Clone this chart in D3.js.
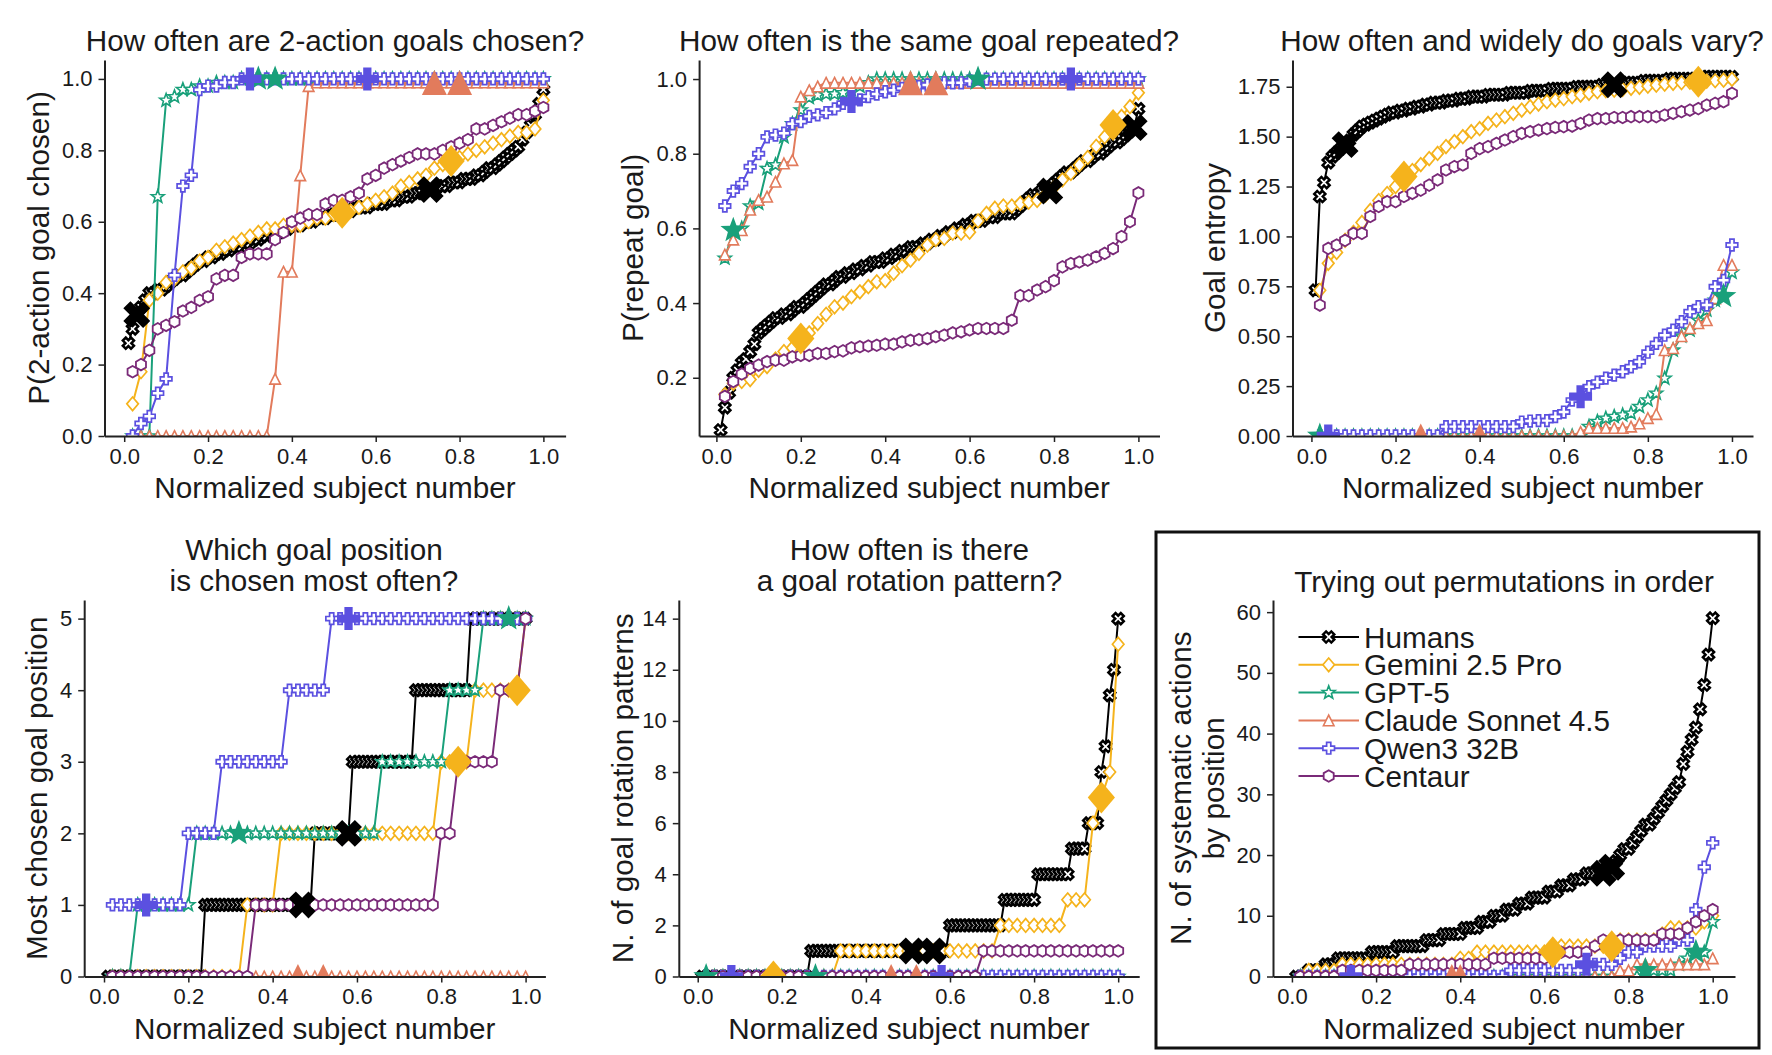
<!DOCTYPE html>
<html>
<head>
<meta charset="utf-8">
<script src="https://cdn.jsdelivr.net/npm/d3@7"></script>
<style>
  body { margin: 0; background: #fff; }
  text { font-family: "Liberation Sans", Arial, sans-serif; fill: #1a1a1a; }
</style>
</head>
<body>
<svg id="chart" width="1772" height="1055"></svg>
<script>
// models, in legend order
const models = ["Humans", "Gemini 2.5 Pro", "GPT-5", "Claude Sonnet 4.5", "Qwen3 32B", "Centaur"];
const modelColors = ["#000000", "#f5b31c", "#19a07a", "#e27b5c", "#5b50e0", "#7a2a78"];
const modelShapes = ["x", "diamond", "star", "triangle", "plus", "hexagon"];

const xTickValues = [0, 0.2, 0.4, 0.6, 0.8, 1.0];
const twoActionTicks = [0, 0.2, 0.4, 0.6, 0.8, 1.0];
const repeatTicks = [0.2, 0.4, 0.6, 0.8, 1.0];
const entropyTicks = [0, 0.25, 0.5, 0.75, 1.0, 1.25, 1.5, 1.75];
const positionTicks = [0, 1, 2, 3, 4, 5];
const rotationTicks = [0, 2, 4, 6, 8, 10, 12, 14];
const permutationTicks = [0, 10, 20, 30, 40, 50, 60];

// ---- P(2-action goal chosen)
const twoActionHumans = [.26,.30,.34,.36,.38,.40,.40,.41,.41,.42,
  .43,.44,.45,.45,.46,.47,.48,.49,.49,.50, .50,.51,.51,.52,.52,.53,.53,.53,.54,.54,
  .55,.55,.56,.56,.57,.57,.57,.58,.58,.59, .59,.59,.60,.60,.60,.61,.61,.61,.62,.62,
  .62,.63,.63,.63,.64,.64,.64,.64,.65,.65, .65,.65,.66,.66,.66,.67,.67,.67,.68,.68,
  .68,.69,.69,.69,.70,.70,.70,.71,.71,.71, .72,.72,.72,.73,.73,.74,.75,.75,.76,.77,
  .78,.79,.80,.81,.83,.85,.87,.90,.93,.97];
const twoActionGemini = [.09,.18,.38,.40,.43,.44,.46,.47,.49,.50, .52,.53,.54,.55,.56,.57,.58,.58,.59,.59,
  .59,.60,.61,.61,.62,.625,.63,.64,.65,.66, .67,.68,.70,.71,.72,.73,.75,.76,.77,.78,
  .79,.80,.81,.82,.83,.84,.85,.85,.86,.94];
const twoActionGpt = [0,0,0,.67,.94,.95,.97,.97,.98,.98, .99,.99,.99,1,1,1,1,1,1,1,
  1,1,1,1,1,1,1,1,1,1, 1,1,1,1,1,1,1,1,1,1, 1,1,1,1,1,1,1,1,1,1];
const twoActionClaude = [0,0,0,0,0,0,0,0,0,0, 0,0,0,0,0,0,0,.16,.46,.46,
  .73,.98,.99,.99,.99,.99,.99,.99,.99,.99, .99,.99,.99,.99,.99,.99,.99,.99,.99,.99,
  .99,.99,.99,.99,.99,.99,.99,.99,.99,.99];
const twoActionQwen = [0,.035,.055,.12,.16,.45,.70,.73,.97,.98, .98,.99,.99,1,1,1,1,1,1,1,
  1,1,1,1,1,1,1,1,1,1, 1,1,1,1,1,1,1,1,1,1, 1,1,1,1,1,1,1,1,1,1];
const twoActionCentaur = [.18,.20,.24,.30,.31,.32,.35,.36,.38,.39, .44,.45,.45,.50,.51,.51,.51,.55,.57,.60,
  .61,.62,.62,.65,.66,.66,.67,.68,.72,.73, .75,.76,.77,.78,.79,.79,.79,.80,.81,.82,
  .83,.86,.86,.87,.88,.89,.90,.90,.91,.92];
const twoActionMarked = [["Humans",.03,.34],["Humans",.73,.69],["Gemini 2.5 Pro",.52,.625],["Gemini 2.5 Pro",.78,.77],
  ["GPT-5",.32,1],["GPT-5",.36,1],["Claude Sonnet 4.5",.74,.99],["Claude Sonnet 4.5",.80,.99],
  ["Qwen3 32B",.30,1],["Qwen3 32B",.58,1]];

// ---- P(repeat goal)
const repeatHumans = [.06,.12,.16,.20,.22,.24,.25,.27,.29,.32,
  .33,.34,.35,.36,.36,.37,.37,.38,.39,.39, .40,.41,.42,.43,.44,.45,.45,.46,.47,.47,
  .48,.48,.49,.49,.50,.50,.51,.51,.51,.52, .52,.53,.53,.54,.54,.55,.55,.55,.56,.56,
  .57,.57,.58,.58,.59,.59,.60,.60,.61,.61, .62,.62,.62,.63,.63,.63,.64,.64,.64,.64,
  .65,.66,.67,.68,.69,.69,.70,.70,.71,.72, .73,.74,.75,.75,.76,.77,.78,.78,.79,.80,
  .80,.81,.82,.83,.83,.84,.85,.86,.87,.92];
const repeatGemini = [.155,.185,.19,.195,.22,.23,.25,.27,.28,.305, .32,.345,.37,.39,.40,.417,.43,.444,.457,.46,
  .48,.50,.515,.533,.555,.57,.573,.587,.587,.59, .62,.64,.654,.66,.66,.667,.67,.675,.69,.71,
  .73,.747,.77,.79,.82,.845,.877,.90,.926,.963];
const repeatGpt = [.52,.595,.60,.66,.667,.76,.77,.845,.88,.917, .95,.957,.96,.96,.963,.97,.98,.99,1,1,
  1,1,1,1,1,1,1,1,1,1, 1,1,1,1,1,1,1,1,1,1, 1,1,1,1,1,1,1,1,1,1];
const repeatClaude = [.53,.57,.595,.65,.676,.685,.725,.774,.783,.953, .97,.98,.99,.99,.99,.99,.99,.99,.99,.99,
  .99,.99,.99,.99,.99,.99,.99,.99,.99,.99, .99,.99,.99,.99,.99,.99,.99,.99,.99,.99,
  .99,.99,.99,.99,.99,.99,.99,.99,.99,.99];
const repeatQwen = [.66,.70,.72,.765,.80,.845,.85,.855,.88,.886, .90,.904,.91,.92,.935,.94,.944,.953,.96,.966,
  .97,.975,.975,.98,.984,.984,.99,.99,.99,.995, 1,1,1,1,1,1,1,1,1,1, 1,1,1,1,1,1,1,1,1,1];
const repeatCentaur = [.15,.19,.21,.225,.234,.243,.247,.247,.256,.26, .26,.265,.265,.27,.272,.28,.283,.285,.287,.29,
  .29,.296,.30,.302,.305,.31,.314,.32,.323,.328, .332,.332,.332,.332,.354,.42,.42,.435,.444,.46,
  .497,.506,.51,.515,.524,.533,.546,.578,.618,.695];
const repeatMarked = [["Humans",.79,.70],["Humans",.99,.87],["Gemini 2.5 Pro",.20,.305],["Gemini 2.5 Pro",.94,.877],
  ["GPT-5",.04,.595],["GPT-5",.62,1],["Claude Sonnet 4.5",.46,.99],["Claude Sonnet 4.5",.52,.99],
  ["Qwen3 32B",.32,.94],["Qwen3 32B",.84,1]];

// ---- Goal entropy
const entropyHumans = [.73,1.20,1.27,1.37,1.40,1.42,1.44,1.46,1.48,1.51,
  1.53,1.55,1.56,1.57,1.58,1.59,1.60,1.61,1.62,1.62, 1.63,1.63,1.64,1.64,1.65,1.65,1.66,1.66,1.67,1.67,
  1.67,1.68,1.68,1.68,1.69,1.69,1.69,1.70,1.70,1.70, 1.70,1.71,1.71,1.71,1.71,1.71,1.72,1.72,1.72,1.72,
  1.72,1.73,1.73,1.73,1.73,1.73,1.74,1.74,1.74,1.74, 1.74,1.74,1.75,1.75,1.75,1.75,1.75,1.75,1.76,1.76,
  1.76,1.76,1.76,1.77,1.77,1.77,1.77,1.77,1.78,1.78, 1.78,1.78,1.78,1.78,1.79,1.79,1.79,1.79,1.79,1.79,
  1.79,1.79,1.80,1.80,1.80,1.80,1.80,1.80,1.80,1.80];
const entropyGemini = [.73,.865,.92,.98,1.02,1.07,1.13,1.18,1.215,1.25, 1.30,1.33,1.36,1.39,1.416,1.45,1.475,1.50,1.525,1.54,
  1.566,1.583,1.60,1.617,1.633,1.65,1.663,1.675,1.683,1.69, 1.70,1.708,1.717,1.725,1.73,1.733,1.737,1.742,1.747,1.753,
  1.758,1.763,1.767,1.77,1.773,1.775,1.778,1.78,1.783,1.787];
const entropyGpt = [0,0,0,0,0,0,0,0,0,0, 0,0,0,0,0,0,0,0,0,0, 0,0,0,0,0,0,0,0,0,0,
  0,0,.047,.072,.089,.097,.105,.114,.147,.18, .214,.289,.43,.50,.53,.58,.63,.68,.70,.82];
const entropyClaude = [0,0,0,0,0,0,0,0,0,0, 0,0,0,0,0,0,0,0,0,0, 0,0,0,0,0,0,0,0,0,0,
  0,.02,.04,.04,.04,.04,.04,.047,.063,.09, .11,.43,.44,.50,.54,.565,.58,.69,.857,.857];
const entropyQwen = [0,0,0,0,0,0,0,0,0,0, 0,0,0,0,0,.047,.047,.047,.047,.047,
  .047,.047,.047,.047,.07,.075,.077,.077,.097,.12, .18,.197,.247,.27,.29,.305,.322,.347,.372,.42,
  .464,.505,.53,.573,.623,.648,.656,.748,.78,.957];
const entropyCentaur = [.656,.94,.957,.98,1.015,1.015,1.10,1.15,1.174,1.174, 1.20,1.216,1.232,1.257,1.283,1.333,1.35,1.358,1.416,1.44,
  1.45,1.466,1.483,1.50,1.516,1.525,1.533,1.54,1.546,1.55, 1.553,1.566,1.583,1.59,1.59,1.596,1.596,1.60,1.60,1.60,
  1.60,1.608,1.617,1.625,1.633,1.64,1.658,1.667,1.675,1.717];
const entropyMarked = [["Humans",.08,1.46],["Humans",.72,1.76],["Gemini 2.5 Pro",.22,1.30],["Gemini 2.5 Pro",.92,1.775],
  ["GPT-5",.02,0],["GPT-5",.98,.70],["Claude Sonnet 4.5",.26,0],["Claude Sonnet 4.5",.40,0],
  ["Qwen3 32B",.04,0],["Qwen3 32B",.64,.197]];

// ---- Most chosen goal position
const positionHumans = [0,0,0,0,0,0,0,0,0,0, 0,0,0,0,0,0,0,0,0,0, 0,0,0,1,1,1,1,1,1,1,
  1,1,1,1,1,1,1,1,1,1, 1,1,1,1,1,1,1,1,1,2, 2,2,2,2,2,2,2,2,3,3,
  3,3,3,3,3,3,3,3,3,3, 3,3,3,4,4,4,4,4,4,4, 4,4,4,4,4,4,5,5,5,5, 5,5,5,5,5,5,5,5,5,5];
const positionGemini = [0,0,0,0,0,0,0,0,0,0, 0,0,0,0,0,0,1,1,1,1, 2,2,2,2,2,2,2,2,2,2,
  2,2,2,2,2,2,2,2,2,3, 3,3,3,4,4,4,4,4,4,5];
const positionGpt = [0,0,0,1,1,1,1,1,1,1, 2,2,2,2,2,2,2,2,2,2, 2,2,2,2,2,2,2,2,2,2,
  2,2,3,3,3,3,3,3,3,3, 4,4,4,4,5,5,5,5,5,5];
const positionClaude = [0,0,0,0,0,0,0,0,0,0, 0,0,0,0,0,0,0,0,0,0, 0,0,0,0,0,0,0,0,0,0,
  0,0,0,0,0,0,0,0,0,0, 0,0,0,0,0,0,0,0,0,0];
const positionQwen = [1,1,1,1,1,1,1,1,1,2, 2,2,2,3,3,3,3,3,3,3, 3,4,4,4,4,4,5,5,5,5,
  5,5,5,5,5,5,5,5,5,5, 5,5,5,5,5,5,5,5,5,5];
const positionCentaur = [0,0,0,0,0,0,0,0,0,0, 0,0,0,0,0,0,0,1,1,1, 1,1,1,1,1,1,1,1,1,1,
  1,1,1,1,1,1,1,1,1,2, 2,3,3,3,3,3,4,4,4,5];
const positionMarked = [["Humans",.47,1],["Humans",.58,2],["Gemini 2.5 Pro",.84,3],["Gemini 2.5 Pro",.98,4],
  ["GPT-5",.32,2],["GPT-5",.96,5],["Claude Sonnet 4.5",.46,0],["Claude Sonnet 4.5",.52,0],
  ["Qwen3 32B",.10,1],["Qwen3 32B",.58,5]];

// ---- N. of goal rotation patterns
const rotationHumans = [0,0,0,0,0,0,0,0,0,0, 0,0,0,0,0,0,0,0,0,0, 0,0,0,0,0,0,1,1,1,1,
  1,1,1,1,1,1,1,1,1,1, 1,1,1,1,1,1,1,1,1,1, 1,1,1,1,1,1,1,1,1,2,
  2,2,2,2,2,2,2,2,2,2, 2,2,3,3,3,3,3,3,3,3, 4,4,4,4,4,4,4,4,5,5, 5,5,6,6,6,8,9,11,12,14];
const rotationGemini = [0,0,0,0,0,0,0,0,0,0, 0,0,0,0,0,0,1,1,1,1, 1,1,1,1,1,1,1,1,1,1,
  1,1,1,1,1,2,2,2,2,2, 2,2,2,3,3,3,6,7,8,13];
const rotationGpt = [0,0,0,0,0,0,0,0,0,0, 0,0,0,0,0,0,0,0,0,0, 0,0,0,0,0,0,0,0,0,0,
  0,0,0,0,0,0,0,0,0,0, 0,0,0,0,0,0,0,0,0,0];
const rotationClaude = [0,0,0,0,0,0,0,0,0,0, 0,0,0,0,0,0,0,0,0,0, 0,0,0,0,0,0,0,0,0,0,
  0,0,0,0,0,0,0,0,0,0, 0,0,0,0,0,0,0,0,0,0];
const rotationQwen = [0,0,0,0,0,0,0,0,0,0, 0,0,0,0,0,0,0,0,0,0, 0,0,0,0,0,0,0,0,0,0,
  0,0,0,0,0,0,0,0,0,0, 0,0,0,0,0,0,0,0,0,0];
const rotationCentaur = [0,0,0,0,0,0,0,0,0,0, 0,0,0,0,0,0,0,0,0,0, 0,0,0,0,0,0,0,0,0,0,
  0,0,0,1,1,1,1,1,1,1, 1,1,1,1,1,1,1,1,1,1];
const rotationMarked = [["Humans",.51,1],["Humans",.56,1],["Gemini 2.5 Pro",.18,0],["Gemini 2.5 Pro",.96,7],
  ["GPT-5",.02,0],["GPT-5",.28,0],["Claude Sonnet 4.5",.46,0],["Claude Sonnet 4.5",.52,0],
  ["Qwen3 32B",.08,0],["Qwen3 32B",.58,0]];

// ---- N. of systematic actions by position
const permutationHumans = [0,0,0,1,1,1,1,2,2,2, 3,3,3,3,3,3,3,3,4,4, 4,4,4,4,5,5,5,5,5,5,
  5,6,6,6,6,7,7,7,7,7, 8,8,8,8,9,9,9,10,10,10, 11,11,11,12,12,12,13,13,13,13,
  14,14,14,15,15,15,16,16,16,17, 17,17,17,17,18,18,19,20,21,21, 22,23,24,25,25,26,27,28,29,30,
  31,32,35,37,39,41,44,48,53,59];
const permutationGemini = [0,1,1,1,1,2,2,2,2,2, 2,2,2,2,2,2,2,2,2,3, 3,4,4,4,4,4,4,4,4,4,
  4,5,5,5,5,5,5,5,6,6, 6,6,6,7,8,8,8,8,9,10];
const permutationGpt = [0,0,0,0,0,0,0,0,0,0, 0,0,0,0,0,0,0,0,0,0, 0,0,0,0,0,0,0,0,0,0,
  0,0,0,0,0,0,0,0,0,0, 0,1,1,1,1,2,3,4,4,9];
const permutationClaude = [0,0,0,0,0,0,0,0,0,0, 0,0,0,0,0,0,0,0,0,0, 0,0,0,0,0,0,0,0,0,0,
  0,0,0,0,0,0,0,0,1,1, 2,2,2,2,2,2,2,2,2,3];
const permutationQwen = [0,0,0,0,0,0,0,0,0,0, 0,0,0,0,0,0,0,0,0,0, 0,0,0,0,0,1,1,1,1,1,
  1,1,1,1,2,2,2,2,3,4, 4,5,5,5,5,6,6,11,18,22];
const permutationCentaur = [0,0,0,0,0,1,1,1,1,1, 1,1,1,2,2,2,2,2,2,2, 2,2,2,3,3,3,3,3,3,3,
  4,4,4,4,4,5,6,6,6,6, 6,6,6,7,7,7,8,9,10,11];
const permutationMarked = [["Humans",.74,17],["Humans",.76,18],["Gemini 2.5 Pro",.62,4],["Gemini 2.5 Pro",.76,5],
  ["GPT-5",.84,1],["GPT-5",.96,4],["Claude Sonnet 4.5",.38,0],["Claude Sonnet 4.5",.40,0],
  ["Qwen3 32B",.14,0],["Qwen3 32B",.70,2]];

// ---- drawing
const svg = d3.select('#chart');
svg.append('rect').attr('width', 1772).attr('height', 1055).attr('fill', '#fff');

const smallSize = { x: 5.8, diamond: 6.8, star: 6.8, triangle: 5.3, plus: 5.8, hexagon: 5.8 };
const bigSize = { x: 14, diamond: 16, star: 13.5, triangle: 12.5, plus: 11.5, hexagon: 11 };
const edgeWidth = [2.5, 1.7, 1.6, 1.6, 1.7, 1.8];
const labelSize = 29.7;

function markerPath(shape, r) {
  let pts;
  if (shape === 'x' || shape === 'plus') {
    const w = r * 0.36;
    pts = [[w,-r],[w,-w],[r,-w],[r,w],[w,w],[w,r],[-w,r],[-w,w],[-r,w],[-r,-w],[-w,-w],[-w,-r]];
    if (shape === 'x') pts = pts.map(([a, b]) => [(a - b) * Math.SQRT1_2, (a + b) * Math.SQRT1_2]);
  } else if (shape === 'diamond') {
    pts = [[0,-r],[r*0.85,0],[0,r],[-r*0.85,0]];
  } else if (shape === 'triangle') {
    pts = [[0,-r],[r,r],[-r,r]];
  } else if (shape === 'star') {
    pts = d3.range(10).map(i => {
      const a = -Math.PI / 2 + i * Math.PI / 5, rr = i % 2 ? r * 0.42 : r;
      return [rr * Math.cos(a), rr * Math.sin(a)];
    });
  } else {
    pts = d3.range(6).map(i => {
      const a = -Math.PI / 2 + i * Math.PI / 3;
      return [r * Math.cos(a), r * Math.sin(a)];
    });
  }
  return 'M' + pts.map(p => p[0].toFixed(2) + ',' + p[1].toFixed(2)).join('L') + 'Z';
}

const panels = [
  { id: 'p1', left: 104.5, right: 565.6, top: 60, bottom: 436, xDom: [-0.047, 1.053], yDom: [0, 1.053],
    yTicks: twoActionTicks, yFmt: '.1f',
    series: [twoActionHumans, twoActionGemini, twoActionGpt, twoActionClaude, twoActionQwen, twoActionCentaur],
    marked: twoActionMarked, title: ['How often are 2-action goals chosen?'], titleX: 335, titleY: 40,
    ylabel: ['P(2-action goal chosen)'], ylabelX: [38], xlabelY: 487 },
  { id: 'p2', left: 699.1, right: 1159.5, top: 60, bottom: 436, xDom: [-0.041, 1.050], yDom: [0.044, 1.051],
    yTicks: repeatTicks, yFmt: '.1f',
    series: [repeatHumans, repeatGemini, repeatGpt, repeatClaude, repeatQwen, repeatCentaur],
    marked: repeatMarked, title: ['How often is the same goal repeated?'], titleX: 929, titleY: 40,
    ylabel: ['P(repeat goal)'], ylabelX: [632], xlabelY: 487 },
  { id: 'p3', left: 1292.5, right: 1753, top: 60, bottom: 436, xDom: [-0.045, 1.050], yDom: [0, 1.884],
    yTicks: entropyTicks, yFmt: '.2f',
    series: [entropyHumans, entropyGemini, entropyGpt, entropyClaude, entropyQwen, entropyCentaur],
    marked: entropyMarked, title: ['How often and widely do goals vary?'], titleX: 1522, titleY: 40,
    ylabel: ['Goal entropy'], ylabelX: [1214], xlabelY: 487 },
  { id: 'p4', left: 84.2, right: 545.4, top: 600, bottom: 976.5, xDom: [-0.047, 1.047], yDom: [0, 5.26],
    yTicks: positionTicks, yFmt: 'd',
    series: [positionHumans, positionGemini, positionGpt, positionClaude, positionQwen, positionCentaur],
    marked: positionMarked, title: ['Which goal position', 'is chosen most often?'], titleX: 314, titleY: 549,
    ylabel: ['Most chosen goal position'], ylabelX: [36.5], xlabelY: 1028 },
  { id: 'p5', left: 678.8, right: 1139.2, top: 600, bottom: 976.5, xDom: [-0.045, 1.050], yDom: [0, 14.73],
    yTicks: rotationTicks, yFmt: 'd',
    series: [rotationHumans, rotationGemini, rotationGpt, rotationClaude, rotationQwen, rotationCentaur],
    marked: rotationMarked, title: ['How often is there', 'a goal rotation pattern?'], titleX: 909.5, titleY: 549,
    ylabel: ['N. of goal rotation patterns'], ylabelX: [622.5], xlabelY: 1028 },
  { id: 'p6', left: 1273, right: 1735, top: 600, bottom: 976.5, xDom: [-0.045, 1.053], yDom: [0, 62],
    yTicks: permutationTicks, yFmt: 'd',
    series: [permutationHumans, permutationGemini, permutationGpt, permutationClaude, permutationQwen, permutationCentaur],
    marked: permutationMarked, title: ['Trying out permutations in order'], titleX: 1504, titleY: 581,
    ylabel: ['N. of systematic actions', 'by position'], ylabelX: [1180, 1213.5], xlabelY: 1028, legend: true }
];

const defs = svg.append('defs');

panels.forEach(p => {
  const x = d3.scaleLinear().domain(p.xDom).range([p.left, p.right]);
  const y = d3.scaleLinear().domain(p.yDom).range([p.bottom, p.top]);
  const g = svg.append('g').attr('id', p.id);

  defs.append('clipPath').attr('id', 'clip-' + p.id)
    .append('rect').attr('x', p.left).attr('y', p.top)
    .attr('width', p.right - p.left).attr('height', p.bottom - p.top);

  const plot = g.append('g').attr('clip-path', `url(#clip-${p.id})`);
  const line = d3.line();

  p.series.forEach((vals, s) => {
    const n = vals.length;
    const pts = vals.map((v, i) => [x((i + 1) / n), y(v)]);
    const sg = plot.append('g');
    sg.append('path').attr('d', line(pts)).attr('fill', 'none')
      .attr('stroke', modelColors[s]).attr('stroke-width', 2);
    const shape = modelShapes[s];
    sg.selectAll('path.m').data(pts).join('path').attr('class', 'm')
      .attr('d', markerPath(shape, smallSize[shape]))
      .attr('transform', d => `translate(${d[0]},${d[1]})`)
      .attr('fill', '#fff').attr('stroke', modelColors[s]).attr('stroke-width', edgeWidth[s]);
  });

  // highlighted subjects
  plot.selectAll('path.big').data(p.marked).join('path').attr('class', 'big')
    .attr('d', d => markerPath(modelShapes[models.indexOf(d[0])], bigSize[modelShapes[models.indexOf(d[0])]]))
    .attr('transform', d => `translate(${x(d[1])},${y(d[2])})`)
    .attr('fill', d => modelColors[models.indexOf(d[0])]);

  // axes
  const ax = g.append('g').attr('transform', `translate(0,${p.bottom})`)
    .call(d3.axisBottom(x).tickValues(xTickValues).tickFormat(d3.format('.1f'))
      .tickSize(6).tickSizeOuter(0).tickPadding(6));
  const ay = g.append('g').attr('transform', `translate(${p.left},0)`)
    .call(d3.axisLeft(y).tickValues(p.yTicks).tickFormat(d3.format(p.yFmt))
      .tickSize(6).tickSizeOuter(0).tickPadding(6));
  [ax, ay].forEach(a => {
    a.attr('font-size', 22).attr('font-family', '"Liberation Sans", Arial, sans-serif');
    a.select('.domain').attr('stroke', '#222').attr('stroke-width', 2);
    a.selectAll('.tick line').attr('stroke', '#222').attr('stroke-width', 1.5);
    a.selectAll('.tick text').attr('fill', '#1a1a1a');
  });

  // titles and labels
  p.title.forEach((t, i) => {
    g.append('text').attr('x', p.titleX).attr('y', p.titleY + i * 31)
      .attr('text-anchor', 'middle').attr('dominant-baseline', 'central')
      .attr('font-size', labelSize).text(t);
  });
  g.append('text').attr('x', (p.left + p.right) / 2).attr('y', p.xlabelY)
    .attr('text-anchor', 'middle').attr('dominant-baseline', 'central')
    .attr('font-size', labelSize).text('Normalized subject number');
  p.ylabel.forEach((t, i) => {
    const cx = p.ylabelX[i], cy = (p.top + p.bottom) / 2;
    g.append('text').attr('transform', `translate(${cx},${cy}) rotate(-90)`)
      .attr('text-anchor', 'middle').attr('dominant-baseline', 'central')
      .attr('font-size', labelSize).text(t);
  });

  if (p.legend) {
    const lg = g.append('g');
    models.forEach((m, i) => {
      const ry = 637 + i * 27.8;
      lg.append('line').attr('x1', 1298.5).attr('x2', 1359).attr('y1', ry).attr('y2', ry)
        .attr('stroke', modelColors[i]).attr('stroke-width', 2);
      lg.append('path').attr('d', markerPath(modelShapes[i], smallSize[modelShapes[i]]))
        .attr('transform', `translate(1328.7,${ry})`)
        .attr('fill', '#fff').attr('stroke', modelColors[i]).attr('stroke-width', edgeWidth[i]);
      lg.append('text').attr('x', 1364).attr('y', ry).attr('dominant-baseline', 'central')
        .attr('font-size', labelSize).text(m);
    });
  }
});

// frame around the last panel
svg.append('rect').attr('x', 1156).attr('y', 532).attr('width', 603).attr('height', 516)
  .attr('fill', 'none').attr('stroke', '#111').attr('stroke-width', 3);
</script>
</body>
</html>
